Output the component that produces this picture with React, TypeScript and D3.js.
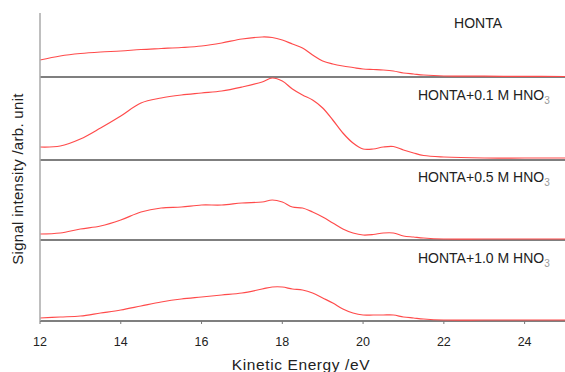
import React from "react";
import * as d3 from "d3";

// kinetic energy grid (eV) shared by every spectrum
const energy = [
  12, 12.5, 13, 13.5, 14, 14.5, 15, 15.5, 16, 16.5, 17, 17.5, 17.75, 18, 18.25,
  18.5, 18.75, 19, 19.25, 19.5, 19.75, 20, 20.25, 20.5, 20.75, 21, 21.25, 21.5,
  22, 23, 24, 25,
];

// signal intensities (arb. unit)
const honta = [
  17, 21, 23.5, 25, 26, 27.5, 28.5, 29.5, 31, 34, 38, 40, 39.5, 37, 33, 29, 22,
  16, 13, 11, 9.5, 8, 7.5, 7, 6, 4, 3, 2, 1, 0.8, 0.6, 0.5,
];
const hno3_01 = [
  13, 14, 21, 32, 44, 57, 62, 65, 67, 69, 73, 78, 82, 79, 71, 65, 60, 52, 40,
  27, 17, 11, 11, 13, 13.5, 10, 7, 4.5, 3, 2, 2, 2,
];
const hno3_05 = [
  6, 7, 11, 14, 20, 28, 32, 33, 35, 35, 37, 38, 40, 38, 33, 32, 28, 23, 17, 11,
  7, 5, 5.5, 7, 7, 4, 3, 2, 1, 1, 1, 1,
];
const hno3_10 = [
  3, 4, 5, 8, 11, 15, 19, 22, 24, 26, 28, 32, 34, 34, 32, 31, 28, 23, 18, 12, 8,
  6, 6, 6, 6, 4, 3, 2, 1, 1, 1, 1,
];

const seriesNames = ["HONTA", "HONTA+0.1 M HNO", "HONTA+0.5 M HNO", "HONTA+1.0 M HNO"];
const seriesSub = ["", "3", "3", "3"];
const seriesValues = [honta, hno3_01, hno3_05, hno3_10];
const xTicks = [12, 14, 16, 18, 20, 22, 24];

const W = 565;
const H = 372;
const left = 40;
const right = 565;
// panel [top, bottom] in px
const panels = [
  [13, 77],
  [77, 160],
  [160, 240],
  [240, 321],
];
const labelPos = [
  { x: 478, y: 28, anchor: "middle" },
  { x: 418, y: 100, anchor: "start" },
  { x: 418, y: 182, anchor: "start" },
  { x: 418, y: 263, anchor: "start" },
];

const App = () => {
  const x = d3.scaleLinear().domain([12, 25]).range([left, right]);
  const font = "'Liberation Sans', Arial, sans-serif";
  const bottom = panels[3][1];

  return (
    <svg
      width={W}
      height={H}
      style={{ position: "absolute", left: 0, top: 0, background: "#fff" }}
    >
      {panels.map(([top, bot], i) => {
        const y = d3.scaleLinear().domain([0, bot - top]).range([bot, top]);
        const line = d3
          .line<number>()
          .x((_, j) => x(energy[j]))
          .y((d) => y(d))
          .curve(d3.curveCatmullRom.alpha(0.5));
        return (
          <g key={i}>
            <line
              x1={left}
              x2={right}
              y1={bot}
              y2={bot}
              stroke="#555"
              strokeWidth={1.5}
            />
            <path
              d={line(seriesValues[i]) || ""}
              fill="none"
              stroke="#ff4b4b"
              strokeWidth={1.2}
            />
            <text
              x={labelPos[i].x}
              y={labelPos[i].y}
              textAnchor={labelPos[i].anchor}
              fontFamily={font}
              fontSize={14}
              fill="#222"
            >
              {seriesNames[i]}
              {seriesSub[i] && (
                <tspan dy={4} fontSize={10} fill="#999">
                  {seriesSub[i]}
                </tspan>
              )}
            </text>
          </g>
        );
      })}

      {/* left axis */}
      <line x1={left} x2={left} y1={13} y2={bottom} stroke="#aaa" strokeWidth={1.5} />

      {/* bottom ticks */}
      {xTicks.map((t) => (
        <g key={t}>
          <line x1={x(t)} x2={x(t)} y1={bottom} y2={bottom + 3} stroke="#777" />
          <text
            x={x(t)}
            y={346}
            textAnchor="middle"
            fontFamily={font}
            fontSize={12.5}
            fill="#222"
          >
            {t}
          </text>
        </g>
      ))}

      <text
        x={301}
        y={370}
        textAnchor="middle"
        fontFamily={font}
        fontSize={15.5}
        letterSpacing={0.6}
        fill="#222"
      >
        Kinetic Energy /eV
      </text>
      <text
        transform="translate(23,179) rotate(-90)"
        textAnchor="middle"
        fontFamily={font}
        fontSize={15}
        letterSpacing={0.3}
        fill="#222"
      >
        Signal intensity /arb. unit
      </text>
    </svg>
  );
};

export default App;
